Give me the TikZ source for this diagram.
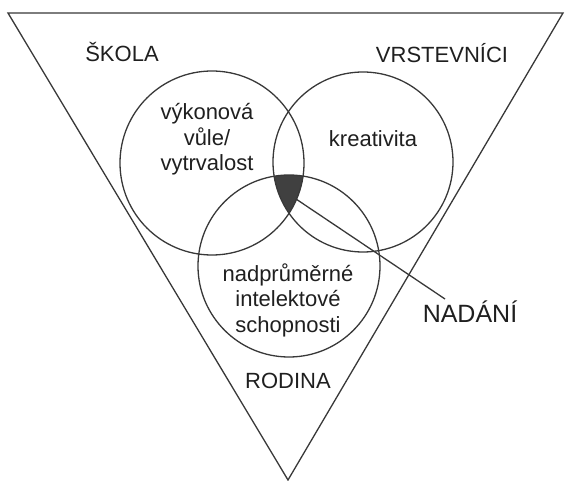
\documentclass[tikz,border=0pt]{standalone}
\usepackage{fontspec}
\setmainfont{Liberation Sans}
\begin{document}
\begin{tikzpicture}[x=1pt,y=-1pt,
  edge/.style={draw=black!78,line width=1.3pt},
  ring/.style={edge,circle,minimum size=#1,inner sep=0pt},
  lbl/.style={text=black!88,font=\fontsize{22}{25.5}\selectfont,inner sep=0pt},
  biglbl/.style={text=black!88,font=\fontsize{25}{29}\selectfont,inner sep=0pt}]
\useasboundingbox (0,0) rectangle (566,481);

% outer triangle
\coordinate (tl) at (8,13);
\coordinate (tr) at (563,13);
\coordinate (apex) at (288,480);
\draw[edge,line join=miter] (tl) -- (tr) -- (apex) -- cycle;

% common core of the three circles
\begin{scope}
  \clip (212,163) circle (92pt);
  \clip (363,162) circle (90pt);
  \fill[black!75] (289,266) circle (91pt);
\end{scope}

% the three circles
\node[ring=184pt] (will) at (212,163) {};
\node[ring=180pt] (creat) at (363,162) {};
\node[ring=182pt] (intel) at (289,266) {};

% texts inside the circles
\node[lbl,align=center] (willtxt) at (207,139.5) {výkonová\\vůle/\\vytrvalost};
\node[lbl,anchor=base] (creattxt) at (373,147) {kreativita};
\node[lbl,align=center] (inteltxt) at (288,300) {nadprůměrné\\intelektové\\schopnosti};

% surroundings
\node[lbl,anchor=base] (school) at (122,62) {ŠKOLA};
\node[lbl,anchor=base] (peers) at (442,63) {VRSTEVNÍCI};
\node[lbl,anchor=base] (family) at (288,389) {RODINA};

% gift label with its leader
\node[biglbl,anchor=base] (gift) at (470,323) {NADÁNÍ};
\coordinate (core) at (296,199);
\coordinate (leadend) at (445,299);
\draw[edge] (core) -- (leadend);
\end{tikzpicture}
\end{document}
